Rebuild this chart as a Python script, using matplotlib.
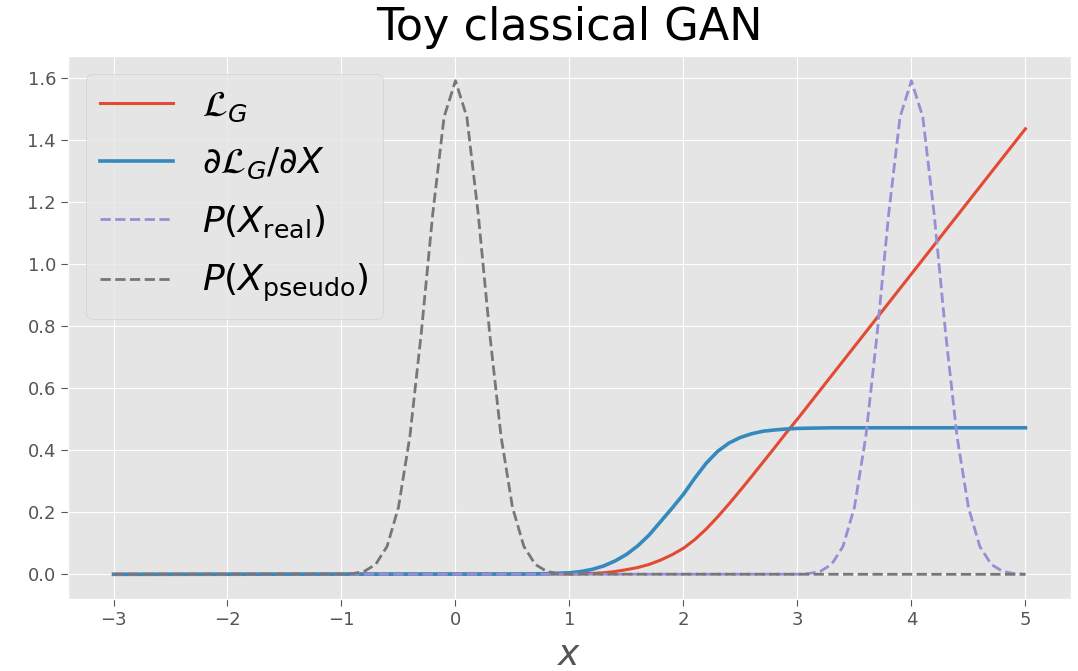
import matplotlib
matplotlib.use("Agg")
import matplotlib.pyplot as plt

plt.style.use("ggplot")

# --- Curves (values sampled along x) ---
# generator loss L_G
loss_x = [-3.0, 1.0, 1.1, 1.2, 1.3, 1.4, 1.5, 1.6, 1.7, 1.8, 1.9, 2.0,
          2.1, 2.2, 2.3, 2.4, 2.5, 2.6, 2.7, 2.8, 2.9, 3.0, 5.0]
loss_y = [0.0, 0.001, 0.002, 0.003, 0.005, 0.009, 0.015, 0.022, 0.032, 0.046,
          0.063, 0.084, 0.112, 0.146, 0.185, 0.227, 0.271, 0.316, 0.362,
          0.408, 0.455, 0.500, 1.435]

# gradient dL_G/dX
grad_x = [-3.0, 0.6, 0.8, 1.0, 1.1, 1.2, 1.3, 1.4, 1.5, 1.6, 1.7, 1.8, 1.9,
          2.0, 2.1, 2.2, 2.3, 2.4, 2.5, 2.6, 2.7, 2.8, 2.9, 3.0, 3.3, 5.0]
grad_y = [0.0, 0.001, 0.002, 0.005, 0.009, 0.016, 0.027, 0.043, 0.064, 0.092,
          0.127, 0.170, 0.213, 0.258, 0.310, 0.358, 0.396, 0.423, 0.441,
          0.453, 0.461, 0.465, 0.468, 0.470, 0.472, 0.472]

# bell shape shared by both densities, offsets -1.0 .. 1.0
bell_offsets = [-1.0, -0.9, -0.8, -0.7, -0.6, -0.5, -0.4, -0.3, -0.2, -0.1, 0.0,
                0.1, 0.2, 0.3, 0.4, 0.5, 0.6, 0.7, 0.8, 0.9, 1.0]
bell_values = [0.0005, 0.0024, 0.0095, 0.032, 0.090, 0.216, 0.444, 0.777,
               1.159, 1.473, 1.59, 1.473, 1.159, 0.777, 0.444, 0.216, 0.090,
               0.032, 0.0095, 0.0024, 0.0005]

real_center = 4.0
pseudo_center = 0.0

real_x = [-3.0] + [real_center + d for d in bell_offsets]
real_y = [0.0] + bell_values
pseudo_x = [-3.0] + [pseudo_center + d for d in bell_offsets] + [5.0]
pseudo_y = [0.0] + bell_values + [0.0]

fig = plt.figure(figsize=(10.78, 6.71), dpi=100)
ax = fig.add_axes([0.063, 0.1073, 0.9305, 0.8092])

ax.plot(loss_x, loss_y, color="#E24A33", lw=2.2, label=r"$\mathcal{L}_G$")
ax.plot(grad_x, grad_y, color="#348ABD", lw=2.6,
        label=r"$\partial\mathcal{L}_G/\partial X$")
ax.plot(real_x, real_y, color="#988ED5", lw=2.0, ls="--",
        label=r"$P(X_\mathrm{real})$")
ax.plot(pseudo_x, pseudo_y, color="#777777", lw=2.0, ls="--",
        label=r"$P(X_\mathrm{pseudo})$")

ax.set_title("Toy classical GAN", fontsize=32, pad=11.5)
ax.set_xlabel("$x$", fontsize=26, labelpad=6.5)
ax.tick_params(labelsize=13, length=5)
ax.legend(loc="upper left", fontsize=26, labelspacing=0.62)

plt.savefig("out.png", dpi=100)
